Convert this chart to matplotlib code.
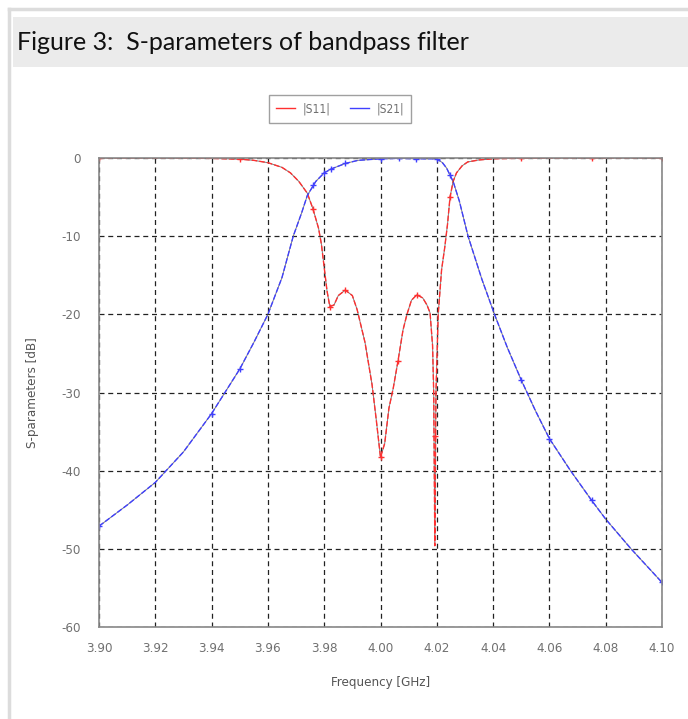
import numpy as np
import matplotlib
matplotlib.use("Agg")
import matplotlib.pyplot as plt
from matplotlib.patches import Rectangle
from matplotlib.lines import Line2D

# |S11| (GHz, dB)
s11_f = [3.900, 3.920, 3.940, 3.950, 3.955, 3.960, 3.965, 3.968, 3.971, 3.974,
         3.976, 3.978, 3.979, 3.980, 3.981, 3.982, 3.9835, 3.985, 3.9875, 3.990,
         3.9917, 3.9945, 3.997, 3.9985, 4.000, 4.0015, 4.003, 4.0045, 4.0062, 4.008,
         4.0094, 4.011, 4.0129, 4.015, 4.0165, 4.0176, 4.0185, 4.0189, 4.0193, 4.0197,
         4.0205, 4.0217, 4.0228, 4.0238, 4.0247, 4.0258, 4.027, 4.029, 4.031, 4.035,
         4.040, 4.050, 4.075, 4.100]
s11_db = [0.0, 0.0, -0.05, -0.15, -0.3, -0.6, -1.2, -1.9, -3.0, -4.5,
          -6.5, -9.0, -11.0, -14.0, -17.0, -19.0, -18.8, -17.6, -16.9, -17.6,
          -19.4, -23.6, -29.0, -33.5, -38.3, -36.5, -32.0, -29.5, -26.0, -22.0,
          -20.0, -18.2, -17.5, -17.9, -18.8, -19.8, -24.0, -30.0, -49.6, -30.0,
          -20.0, -14.3, -11.5, -8.5, -5.0, -3.0, -1.9, -1.0, -0.5, -0.25,
          -0.1, -0.03, 0.0, 0.0]

# |S21|
s21_f = [3.900, 3.910, 3.920, 3.930, 3.940, 3.950, 3.955, 3.960, 3.965, 3.969,
         3.972, 3.974, 3.977, 3.980, 3.9825, 3.9875, 3.992, 4.000, 4.0067, 4.0125,
         4.020, 4.022, 4.0235, 4.0247, 4.0258, 4.028, 4.0311, 4.036, 4.0405, 4.045,
         4.050, 4.055, 4.060, 4.0675, 4.075, 4.080, 4.089, 4.100]
s21_db = [-47.1, -44.4, -41.5, -37.6, -32.7, -27.0, -23.6, -20.0, -15.3, -10.0,
          -7.0, -4.8, -3.0, -1.9, -1.4, -0.7, -0.3, -0.1, -0.05, -0.1,
          -0.1, -0.6, -1.3, -2.2, -3.0, -5.5, -10.0, -15.5, -20.0, -24.2,
          -28.4, -32.3, -35.9, -40.0, -43.8, -46.2, -50.0, -54.3]

# sample points shown with markers
s11_mark_f = [3.900, 3.950, 3.976, 3.982, 3.9875, 4.000, 4.0062, 4.0129, 4.0193, 4.0247, 4.050, 4.075, 4.100]
s11_mark_db = [0.0, -0.15, -6.5, -19.0, -16.9, -38.3, -26.0, -17.5, -35.6, -5.0, -0.03, 0.0, 0.0]
s21_mark_f = [3.900, 3.940, 3.950, 3.976, 3.980, 3.9825, 3.9875, 4.000, 4.0067, 4.0125, 4.020, 4.0247, 4.050, 4.060, 4.075, 4.100]
s21_mark_db = [-47.1, -32.7, -27.0, -3.5, -1.9, -1.4, -0.7, -0.1, -0.05, -0.1, -0.1, -2.2, -28.4, -35.9, -43.8, -54.3]

x_ticks = [3.90, 3.92, 3.94, 3.96, 3.98, 4.00, 4.02, 4.04, 4.06, 4.08, 4.10]
y_ticks = [0, -10, -20, -30, -40, -50, -60]

RED = "#ff3030"
BLUE = "#4040ff"
TICK_GREY = "#707070"
small = dict(family="DejaVu Sans", stretch="condensed", size=9.5)

fig = plt.figure(figsize=(6.88, 7.19), dpi=100)

# page frame and header band
fig.add_artist(Line2D([9 / 688, 9 / 688], [0, 1 - 9 / 719], color="#dcdcdc", lw=2.5))
fig.add_artist(Line2D([9 / 688, 1], [1 - 9 / 719, 1 - 9 / 719], color="#dcdcdc", lw=2.5))
fig.add_artist(Rectangle((13 / 688, 1 - 67 / 719), 1, 50 / 719, color="#ebebeb", lw=0))
fig.text(17 / 688, 1 - 43 / 719, "Figure 3:  S-parameters of bandpass filter",
         fontsize=18, family="Lato", va="center", ha="left", color="#111111")

ax = fig.add_axes([99 / 688, 1 - 627 / 719, 563 / 688, 469 / 719])

# faint dark under-line gives the mottled look of the original plot
ax.plot(s11_f, s11_db, color="#444444", lw=0.7, alpha=0.7)
ax.plot(s11_f, s11_db, color=RED, lw=1.0, dashes=(4, 1.5))
ax.plot(s21_f, s21_db, color="#444444", lw=0.7, alpha=0.7)
ax.plot(s21_f, s21_db, color=BLUE, lw=1.0, dashes=(4, 1.5))
ax.plot(s11_mark_f, s11_mark_db, ls="none", marker="+", ms=4, mew=1.0, color=RED)
ax.plot(s21_mark_f, s21_mark_db, ls="none", marker="+", ms=4, mew=1.0, color=BLUE)

ax.set_xlim(3.90, 4.10)
ax.set_ylim(-60, 0)
ax.set_xticks(x_ticks)
ax.set_xticklabels([f"{v:.2f}" for v in x_ticks], color=TICK_GREY, **small)
ax.set_yticks(y_ticks)
ax.set_yticklabels([str(v) for v in y_ticks], color=TICK_GREY, **small)
ax.tick_params(axis="y", length=0, pad=13)
ax.tick_params(axis="x", length=0, pad=11)
ax.grid(True, color="#222222", ls=(0, (4, 3)), lw=0.9)
for s in ax.spines.values():
    s.set_color("#888888")
    s.set_linewidth(1.2)

ax.set_xlabel("Frequency [GHz]", color="#555555", labelpad=15, **small)
ax.set_ylabel("S-parameters [dB]", color="#555555", labelpad=16, **small)

handles = [Line2D([], [], color=RED, lw=1.0), Line2D([], [], color=BLUE, lw=1.0)]
leg = fig.legend(handles, ["|S11|", "|S21|"], loc="center", ncol=2,
                 bbox_to_anchor=(340 / 688, 1 - 109 / 719), frameon=True, fancybox=False,
                 prop=dict(family="DejaVu Sans", stretch="condensed", size=8.5),
                 handlelength=1.6, columnspacing=1.7, handletextpad=0.6, borderpad=0.6)
leg.get_frame().set_edgecolor("#888888")
leg.get_frame().set_linewidth(1.0)
for t in leg.get_texts():
    t.set_color(TICK_GREY)

fig.savefig("out.png", dpi=100)
